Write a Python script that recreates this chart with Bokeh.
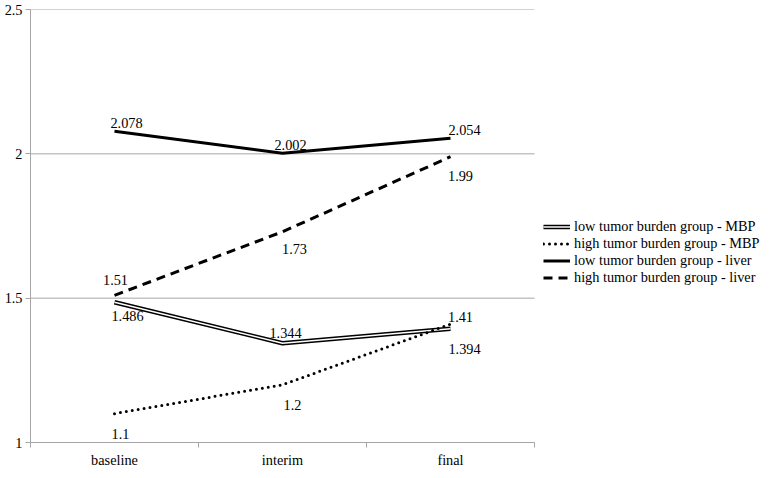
from bokeh.plotting import figure
from bokeh.models import Range1d, FixedTicker, Legend, LegendItem, ColumnDataSource
from bokeh.core.properties import value
from bokeh.embed import file_html
from bokeh.resources import INLINE

# ---- data ----
categories = ["baseline", "interim", "final"]
low_mbp = [1.486, 1.344, 1.394]
high_mbp = [1.1, 1.2, 1.41]
low_liver = [2.078, 2.002, 2.054]
high_liver = [1.51, 1.73, 1.99]
y_ticks = [1, 1.5, 2, 2.5]
y_tick_labels = ["1", "1.5", "2", "2.5"]
legend_names = [
    "low tumor burden group - MBP",
    "high tumor burden group - MBP",
    "low tumor burden group - liver",
    "high tumor burden group - liver",
]

# ---- label placement (style, screen px) ----
off_low_mbp = [(13, 14), (3, -10), (14, 20)]
off_high_mbp = [(6, 20), (10, 20), (10, -7)]
off_low_liver = [(12, -8), (8, -8), (14, -8)]
off_high_liver = [(1, -15), (12, 17), (10, 19)]

FONT = "Liberation Serif"
FS = "14.3px"
GREY = "#a6a6a6"
W, H = 765, 470
LEFT = 30
PLOT_W = 504          # width of the category area in px
n = len(categories)
x_end = n * (W - LEFT) / PLOT_W   # frame extends right to hold the legend

xs = [i + 0.5 for i in range(n)]

p = figure(width=W, height=H, output_backend="svg", toolbar_location=None,
           x_range=Range1d(0, x_end), y_range=Range1d(y_ticks[0], y_ticks[-1]),
           min_border_left=LEFT, min_border_right=0, min_border_top=9, min_border_bottom=20)
p.outline_line_color = None
p.background_fill_color = "white"
p.border_fill_color = "white"

# axes
p.xaxis.ticker = FixedTicker(ticks=xs, minor_ticks=list(range(n + 1)))
p.xaxis.major_label_overrides = {x: c for x, c in zip(xs, categories)}
p.xaxis.bounds = (0, n)
p.xaxis.major_tick_out = 0
p.xaxis.major_tick_in = 0
p.xaxis.minor_tick_out = 5
p.xaxis.minor_tick_in = 0
p.xaxis.minor_tick_line_color = GREY
p.xaxis.axis_line_color = GREY
p.xaxis.major_label_standoff = 4

p.yaxis.ticker = FixedTicker(ticks=y_ticks)
p.yaxis.major_label_overrides = {t: l for t, l in zip(y_ticks, y_tick_labels)}
p.yaxis.major_tick_out = 5
p.yaxis.major_tick_in = 0
p.yaxis.minor_tick_out = 0
p.yaxis.minor_tick_in = 0
p.yaxis.major_tick_line_color = GREY
p.yaxis.axis_line_color = GREY
p.yaxis.major_label_standoff = 3

for ax in (p.xaxis, p.yaxis):
    ax.major_label_text_font = FONT
    ax.major_label_text_font_size = FS
    ax.major_label_text_color = "black"

p.xgrid.grid_line_color = None
p.ygrid.grid_line_color = None
# horizontal gridlines limited to the category area
p.segment(x0=[0] * len(y_ticks), x1=[n] * len(y_ticks), y0=y_ticks, y1=y_ticks,
          line_color=GREY, line_width=1)

# series
r_lm_outer = p.line(xs, low_mbp, line_color="black", line_width=4.5)
r_lm_inner = p.line(xs, low_mbp, line_color="white", line_width=1.5)
r_hm = p.line(xs, high_mbp, line_color="black", line_width=3, line_dash="0 6", line_cap="round")
r_ll = p.line(xs, low_liver, line_color="black", line_width=3)
r_hl = p.line(xs, high_liver, line_color="black", line_width=3, line_dash="9 6")

# data labels
for vals, offs in ((low_mbp, off_low_mbp), (high_mbp, off_high_mbp),
                   (low_liver, off_low_liver), (high_liver, off_high_liver)):
    src = ColumnDataSource(dict(x=xs, y=vals, t=[f"{v:g}" for v in vals],
                                dx=[o[0] for o in offs], dy=[o[1] for o in offs]))
    p.text(x="x", y="y", text="t", x_offset="dx", y_offset="dy", source=src,
           text_font=value(FONT), text_font_size=FS, text_color="black",
           text_align="center", text_baseline="middle")

legend = Legend(items=[
    LegendItem(label=legend_names[0], renderers=[r_lm_outer, r_lm_inner]),
    LegendItem(label=legend_names[1], renderers=[r_hm]),
    LegendItem(label=legend_names[2], renderers=[r_ll]),
    LegendItem(label=legend_names[3], renderers=[r_hl]),
], location=(513, 156), orientation="vertical")
legend.label_text_font = FONT
legend.label_text_font_size = FS
legend.label_text_color = "black"
legend.glyph_width = 27
legend.glyph_height = 17
legend.label_height = 17
legend.label_standoff = 4
legend.spacing = 0
legend.padding = 0
legend.margin = 0
legend.border_line_color = None
legend.background_fill_alpha = 0
p.add_layout(legend, "center")

open("out.html", "w").write(file_html(p, INLINE))
